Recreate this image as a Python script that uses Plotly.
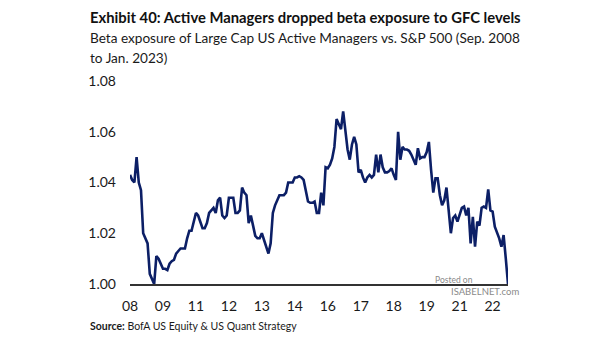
import plotly.graph_objects as go
import pandas as pd

# Monthly beta of Large Cap US active managers vs. S&P 500, Sep 2008 - Jan 2023
months = pd.period_range("2008-09", "2023-01", freq="M").strftime("%Y-%m").tolist()
beta = [
    1.043, 1.041, 1.040, 1.050, 1.040, 1.037, 1.020, 1.018, 1.016, 1.004,
    1.002, 1.000, 1.011, 1.010, 1.008, 1.006, 1.006, 1.0055, 1.008, 1.009,
    1.0095, 1.012, 1.013, 1.014, 1.014, 1.014, 1.018, 1.021, 1.021, 1.024,
    1.028, 1.027, 1.024, 1.022, 1.022, 1.024, 1.028, 1.029, 1.030, 1.028,
    1.033, 1.034, 1.027, 1.026, 1.027, 1.034, 1.034, 1.034, 1.028, 1.028,
    1.029, 1.038, 1.036, 1.035, 1.024, 1.027, 1.023, 1.019, 1.018, 1.018,
    1.020, 1.017, 1.015, 1.012, 1.016, 1.028, 1.031, 1.033, 1.035, 1.035,
    1.035, 1.036, 1.040, 1.040, 1.040, 1.042, 1.042, 1.0425, 1.042, 1.041,
    1.036, 1.0325, 1.032, 1.032, 1.0325, 1.028, 1.028, 1.036, 1.031, 1.046,
    1.0456, 1.047, 1.0495, 1.054, 1.065, 1.063, 1.061, 1.068, 1.061, 1.053,
    1.049, 1.055, 1.058, 1.055, 1.044, 1.045, 1.042, 1.040, 1.042, 1.043,
    1.042, 1.043, 1.051, 1.044, 1.051, 1.046, 1.044, 1.044, 1.0445, 1.0456,
    1.043, 1.041, 1.060, 1.049, 1.054, 1.053, 1.053, 1.0525, 1.051, 1.049,
    1.047, 1.0535, 1.0495, 1.050, 1.050, 1.052, 1.056, 1.045, 1.036, 1.0417,
    1.0417, 1.035, 1.031, 1.033, 1.038, 1.029, 1.020, 1.026, 1.027, 1.0246,
    1.027, 1.030, 1.0305, 1.027, 1.030, 1.016, 1.0265, 1.0147, 1.0246, 1.023,
    1.030, 1.0305, 1.030, 1.0373, 1.029, 1.0285, 1.0226, 1.0206, 1.018, 1.0147,
    1.0193, 1.010, 1.000,
]
tick_step = 15
y_ticks = [1.00, 1.02, 1.04, 1.06, 1.08]

idx = list(range(len(months)))
tick_idx = idx[::tick_step]
tick_text = [months[i][2:4] for i in tick_idx]

W, H = 605, 341
L, R, T, B = 130, 97, 81, 57
pw, ph = W - L - R, H - T - B


def px(xp):
    return (xp - L) / pw


def py(yp):
    return (H - B - yp) / ph


font = "Lato"
fig = go.Figure()
fig.add_trace(go.Scatter(
    x=idx, y=beta, mode="lines",
    line=dict(color="#0c1f66", width=2.6),
    hoverinfo="skip",
))

fig.update_layout(
    width=W, height=H,
    margin=dict(l=L, r=R, t=T, b=B),
    paper_bgcolor="white", plot_bgcolor="white",
    showlegend=False,
    font=dict(family=font, color="#1a1a1a"),
    xaxis=dict(
        range=[0, len(months) - 1],
        tickvals=tick_idx, ticktext=tick_text,
        showgrid=False, zeroline=False,
        showline=True, linecolor="#333333", linewidth=1.6,
        ticks="", tickfont=dict(size=14, color="#1a1a1a"),
        ticklabelstandoff=8,
    ),
    yaxis=dict(
        range=[1.00, 1.08],
        tickvals=y_ticks, ticktext=[f"{v:.2f}" for v in y_ticks],
        showgrid=False, zeroline=False, showline=False,
        ticks="", tickfont=dict(size=14, color="#1a1a1a"),
        ticklabelstandoff=13,
    ),
)

ann = [
    dict(x=px(88), y=py(16.5), text="<b>Exhibit 40: Active Managers dropped beta exposure to GFC levels</b>",
         font=dict(size=14.8, color="#111111")),
    dict(x=px(88), y=py(38), text="Beta exposure of Large Cap US Active Managers vs. S&P 500 (Sep. 2008",
         font=dict(size=13.6, color="#1a1a1a")),
    dict(x=px(88), y=py(58), text="to Jan. 2023)",
         font=dict(size=13.6, color="#1a1a1a")),
    dict(x=px(88), y=py(326), text="<b>Source:</b> BofA US Equity & US Quant Strategy",
         font=dict(size=10.5, color="#1a1a1a")),
    dict(x=px(433), y=py(280), text="Posted on",
         font=dict(size=8.5, color="#8a8a8a")),
    dict(x=px(449), y=py(291), text="ISABELNET.com",
         font=dict(size=9.5, color="#8a8a8a")),
]
for a in ann:
    a.update(xref="paper", yref="paper", xanchor="left", yanchor="middle", showarrow=False)
fig.update_layout(annotations=ann)

fig.write_html("out.html")
